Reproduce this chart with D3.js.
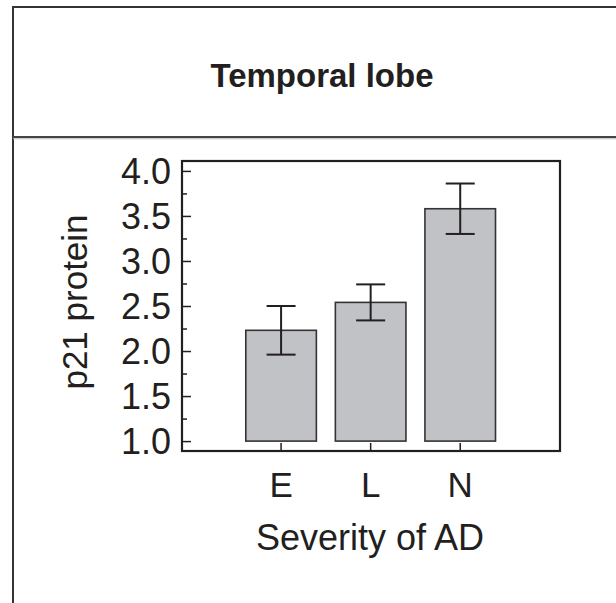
<!DOCTYPE html>
<html>
<head>
<meta charset="utf-8">
<script src="https://cdn.jsdelivr.net/npm/d3@7"></script>
<style>
  html, body { margin: 0; padding: 0; background: #fff; }
  svg { display: block; }
  text { font-family: "Liberation Sans", Arial, Helvetica, sans-serif; fill: #231f20; }
</style>
</head>
<body>
<svg id="chart" width="616" height="603"></svg>
<script>
const title = "Temporal lobe";
const categories = ["E", "L", "N"];
const means = [2.23, 2.54, 3.58];
const errUpper = [2.50, 2.74, 3.86];
const errLower = [1.96, 2.34, 3.30];
const yTicks = [1.0, 1.5, 2.0, 2.5, 3.0, 3.5, 4.0];
const yMinorTicks = [1.25, 1.75, 2.25, 2.75, 3.25, 3.75];
const yLabel = "p21 protein";
const xLabel = "Severity of AD";

(function () {
const svg = d3.select("#chart");
const ink = "#231f20";

// outer panel frame
svg.append("path")
  .attr("d", "M13,603 L13,7 L616,7")
  .attr("fill", "none").attr("stroke", "#333").attr("stroke-width", 2);
svg.append("line")
  .attr("x1", 13).attr("x2", 616).attr("y1", 137).attr("y2", 137)
  .attr("stroke", "#444").attr("stroke-width", 2);
svg.append("line")
  .attr("x1", 13).attr("x2", 616).attr("y1", 138.8).attr("y2", 138.8)
  .attr("stroke", "#bbb").attr("stroke-width", 1);

svg.append("text")
  .attr("x", 322).attr("y", 87)
  .attr("text-anchor", "middle")
  .attr("font-size", 33).attr("font-weight", "bold")
  .text(title);

// plot area
const pL = 182, pR = 560, pT = 161, pB = 451;
const y = d3.scaleLinear().domain([0.89, 4.11]).range([pB, pT]);
const x = d3.scaleBand().domain(categories).range([236.3, 505])
  .paddingInner(0.212).paddingOuter(0.106);

const g = svg.append("g");

// bars
g.selectAll("rect.bar").data(categories).enter().append("rect")
  .attr("class", "bar")
  .attr("x", d => x(d))
  .attr("width", x.bandwidth())
  .attr("y", (d, i) => y(means[i]))
  .attr("height", (d, i) => y(1.0) - y(means[i]))
  .attr("fill", "#c1c2c5")
  .attr("stroke", "#333").attr("stroke-width", 1.6);

// error bars
const capHalf = 14.5;
categories.forEach((c, i) => {
  const cx = x(c) + x.bandwidth() / 2;
  g.append("line").attr("x1", cx).attr("x2", cx)
    .attr("y1", y(errUpper[i])).attr("y2", y(errLower[i]))
    .attr("stroke", ink).attr("stroke-width", 2);
  [errUpper[i], errLower[i]].forEach(v => {
    g.append("line").attr("x1", cx - capHalf).attr("x2", cx + capHalf)
      .attr("y1", y(v)).attr("y2", y(v))
      .attr("stroke", ink).attr("stroke-width", 2);
  });
});

// frame
g.append("rect")
  .attr("x", pL).attr("y", pT)
  .attr("width", pR - pL).attr("height", pB - pT)
  .attr("fill", "none").attr("stroke", ink).attr("stroke-width", 2.2);

// y axis ticks (inward)
const yAxis = d3.axisRight(y).tickValues(yTicks).tickSize(9).tickFormat("");
const yAxisG = g.append("g").attr("transform", `translate(${pL},0)`).call(yAxis);
yAxisG.select(".domain").remove();
yAxisG.selectAll("line").attr("stroke", ink).attr("stroke-width", 1.5);

const yMinor = d3.axisRight(y).tickValues(yMinorTicks).tickSize(5).tickFormat("");
const yMinorG = g.append("g").attr("transform", `translate(${pL},0)`).call(yMinor);
yMinorG.select(".domain").remove();
yMinorG.selectAll("line").attr("stroke", ink).attr("stroke-width", 1.5);

// y tick labels
g.selectAll("text.ytl").data(yTicks).enter().append("text")
  .attr("class", "ytl")
  .attr("x", pL - 11)
  .attr("y", d => y(d))
  .attr("dy", "0.36em")
  .attr("text-anchor", "end")
  .attr("font-size", 36)
  .text(d => d.toFixed(1));

// x ticks (inward)
const xAxis = d3.axisTop(x).tickSize(8).tickFormat("");
const xAxisG = g.append("g").attr("transform", `translate(0,${pB})`).call(xAxis);
xAxisG.select(".domain").remove();
xAxisG.selectAll("line").attr("stroke", ink).attr("stroke-width", 1.5);

// x tick labels
g.selectAll("text.xtl").data(categories).enter().append("text")
  .attr("class", "xtl")
  .attr("x", d => x(d) + x.bandwidth() / 2)
  .attr("y", 497)
  .attr("text-anchor", "middle")
  .attr("font-size", 35)
  .text(d => d);

// axis titles
svg.append("text")
  .attr("x", 370).attr("y", 550)
  .attr("text-anchor", "middle")
  .attr("font-size", 36)
  .text(xLabel);

svg.append("text")
  .attr("transform", `translate(87,${(pT + pB) / 2 - 4}) rotate(-90)`)
  .attr("text-anchor", "middle")
  .attr("font-size", 35)
  .text(yLabel);
})();
</script>
</body>
</html>
